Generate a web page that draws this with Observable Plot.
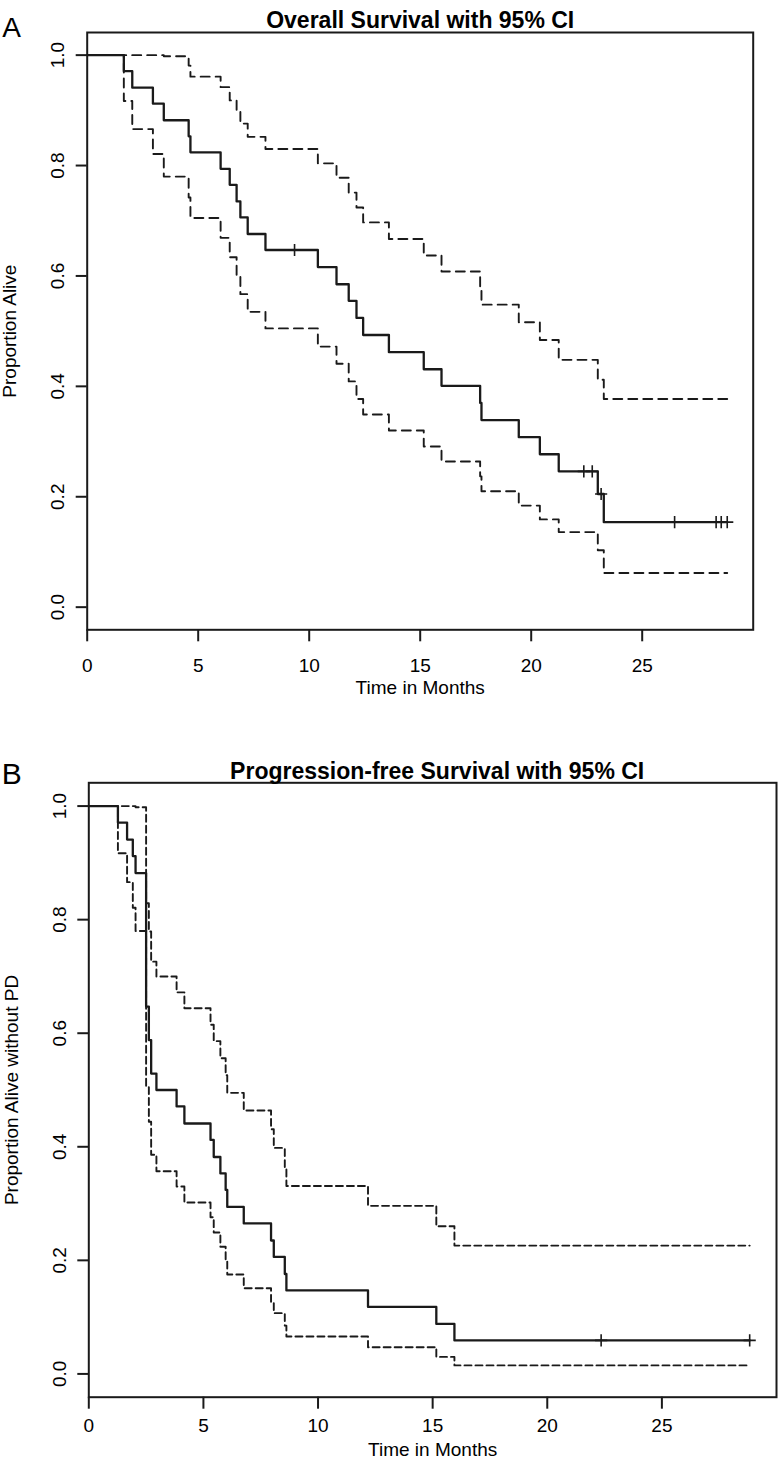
<!DOCTYPE html>
<html><head><meta charset="utf-8">
<script src="https://cdn.jsdelivr.net/npm/d3@7"></script>
<script src="https://cdn.jsdelivr.net/npm/@observablehq/plot@0.6"></script>
<style>
body{margin:0;background:#fff;}
#wrap{width:780px;height:1467px;position:relative;background:#fff;}
#wrap svg{display:block;}
</style></head><body><div id="wrap"></div>
<script>
// ---------- Panel A: Overall survival ----------
const osTime  = [0, 1.65, 2.03, 2.96, 3.45, 4.57, 4.65, 6.01, 6.42, 6.73, 6.9, 7.23, 8.03, 10.39, 11.23, 11.78, 12.13, 12.43, 13.59, 15.16, 15.96, 17.7, 17.76, 19.44, 20.39, 21.24, 23.0, 23.27, 28.83];
const osSurv  = [1, 0.971, 0.941, 0.912, 0.882, 0.853, 0.824, 0.794, 0.765, 0.735, 0.706, 0.676, 0.647, 0.616, 0.585, 0.555, 0.524, 0.493, 0.462, 0.431, 0.401, 0.370, 0.339, 0.308, 0.277, 0.246, 0.205, 0.154, 0.154];
const osUpper = [1, 1, 1, 1, 0.998, 0.981, 0.961, 0.942, 0.918, 0.898, 0.876, 0.852, 0.830, 0.804, 0.778, 0.751, 0.724, 0.697, 0.667, 0.637, 0.608, 0.578, 0.548, 0.516, 0.484, 0.448, 0.412, 0.377, 0.377];
const osLower = [1, 0.917, 0.866, 0.821, 0.780, 0.742, 0.705, 0.669, 0.634, 0.601, 0.567, 0.535, 0.505, 0.472, 0.441, 0.409, 0.377, 0.349, 0.320, 0.291, 0.264, 0.237, 0.210, 0.184, 0.159, 0.136, 0.103, 0.062, 0.062];
const osCensorTime = [9.34, 22.37, 22.75, 23.15, 26.46, 28.33, 28.56, 28.83];
const osCensorSurv = [0.647, 0.246, 0.246, 0.205, 0.154, 0.154, 0.154, 0.154];

// ---------- Panel B: Progression-free survival ----------
const pfsTime  = [0, 1.27, 1.67, 1.92, 2.04, 2.50, 2.62, 2.72, 2.95, 3.83, 4.17, 5.31, 5.45, 5.74, 5.97, 6.04, 6.76, 7.95, 8.07, 8.55, 8.62, 12.18, 15.16, 15.95, 28.83];
const pfsSurv  = [1, 0.971, 0.941, 0.912, 0.882, 0.647, 0.588, 0.529, 0.500, 0.471, 0.441, 0.412, 0.382, 0.353, 0.324, 0.294, 0.265, 0.235, 0.206, 0.176, 0.147, 0.118, 0.088, 0.059, 0.059];
const pfsUpper = [1, 1, 1, 1, 0.998, 0.829, 0.779, 0.726, 0.700, 0.672, 0.644, 0.615, 0.586, 0.556, 0.526, 0.495, 0.464, 0.431, 0.398, 0.364, 0.331, 0.296, 0.260, 0.226, 0.226];
const pfsLower = [1, 0.917, 0.866, 0.821, 0.780, 0.505, 0.444, 0.386, 0.357, 0.330, 0.302, 0.276, 0.249, 0.224, 0.199, 0.175, 0.151, 0.125, 0.107, 0.085, 0.066, 0.047, 0.030, 0.015, 0.015];
const pfsCensorTime = [22.35, 28.83];
const pfsCensorSurv = [0.059, 0.059];

// ---------- Axis ticks and labels ----------
const xTicks = [0, 5, 10, 15, 20, 25];
const yTicks = [0, 0.2, 0.4, 0.6, 0.8, 1.0];
const xLabel = "Time in Months";
const titleA = "Overall Survival with 95% CI";
const titleB = "Progression-free Survival with 95% CI";
const yLabelA = "Proportion Alive";
const yLabelB = "Proportion Alive without PD";

const FONT = "'Liberation Sans', Arial, Helvetica, sans-serif";
const INK = "#1a1a1a";

function kmPanel(o) {
  const toRows = arr => o.time.map((t, i) => ({t, v: arr[i]}));
  const censor = o.cTime.map((t, i) => ({t, v: o.cSurv[i]}));
  return Plot.plot({
    width: 780, height: o.height,
    marginTop: o.mt, marginBottom: o.mb, marginLeft: o.ml, marginRight: o.mr,
    style: {fontFamily: FONT, background: "white", color: "#000", overflow: "visible"},
    x: {domain: [0, 30]},
    y: {domain: [-0.041, 1.041]},
    marks: [
      Plot.line(toRows(o.upper), {x: "t", y: "v", curve: "step-after", stroke: INK, strokeWidth: 1.9, strokeDasharray: o.dash}),
      Plot.line(toRows(o.lower), {x: "t", y: "v", curve: "step-after", stroke: INK, strokeWidth: 1.9, strokeDasharray: o.dash}),
      Plot.line(toRows(o.surv), {x: "t", y: "v", curve: "step-after", stroke: INK, strokeWidth: 2.3}),
      Plot.dot(censor, {x: "t", y: "v", symbol: "plus", r: 4, stroke: INK, strokeWidth: 1.6}),
      Plot.frame({stroke: INK, strokeWidth: 2}),
      Plot.axisX({ticks: xTicks, tickSize: 12, tickPadding: o.xpad, fontSize: 19, strokeWidth: 2, stroke: INK, label: null, tickFormat: d => String(d)}),
      Plot.axisY({ticks: yTicks, tickSize: 11, tickPadding: o.ypad, tickRotate: -90, fontSize: 19, strokeWidth: 2, stroke: INK, label: null, tickFormat: d => d.toFixed(1)}),
      Plot.text([xLabel], {frameAnchor: "bottom", dy: o.xldy, fontSize: 19, fill: "#000"}),
      Plot.text([o.ylabel], {frameAnchor: "left", textAnchor: "middle", dx: o.yldx, rotate: -90, fontSize: 19, fill: "#000"}),
      Plot.text([o.title], {frameAnchor: "top", textAnchor: "middle", dx: o.tdx, dy: o.tdy, fontSize: 23, fontWeight: "bold", fill: "#000", letterSpacing: o.tls}),
      Plot.text([o.letter], {frameAnchor: "top-left", dx: o.ldx, dy: o.ldy, textAnchor: "start", fontSize: o.lfs, fill: "#000"})
    ]
  });
}

const wrap = document.getElementById("wrap");
wrap.appendChild(kmPanel({
  time: osTime, surv: osSurv, upper: osUpper, lower: osLower,
  cTime: osCensorTime, cSurv: osCensorSurv,
  height: 720, mt: 32, mb: 90.7, ml: 86.7, mr: 27.3,
  dash: "9,6", xpad: 17, ypad: 12, xldy: 63.7, yldx: -77, ylabel: yLabelA,
  title: titleA, tdx: 0, tdy: -20.5, tls: "0px",
  letter: "A", ldx: -85, ldy: -15, lfs: 28
}));
wrap.appendChild(kmPanel({
  time: pfsTime, surv: pfsSurv, upper: pfsUpper, lower: pfsLower,
  cTime: pfsCensorTime, cSurv: pfsCensorSurv,
  height: 747, mt: 62.3, mb: 70.3, ml: 88.3, mr: 4,
  dash: "7,4", xpad: 9, ypad: 12, xldy: 58.8, yldx: -77, ylabel: yLabelB,
  title: titleB, tdx: 4.5, tdy: -20.5, tls: "1.1px",
  letter: "B", ldx: -87, ldy: -19.8, lfs: 30
}));
</script></body></html>
